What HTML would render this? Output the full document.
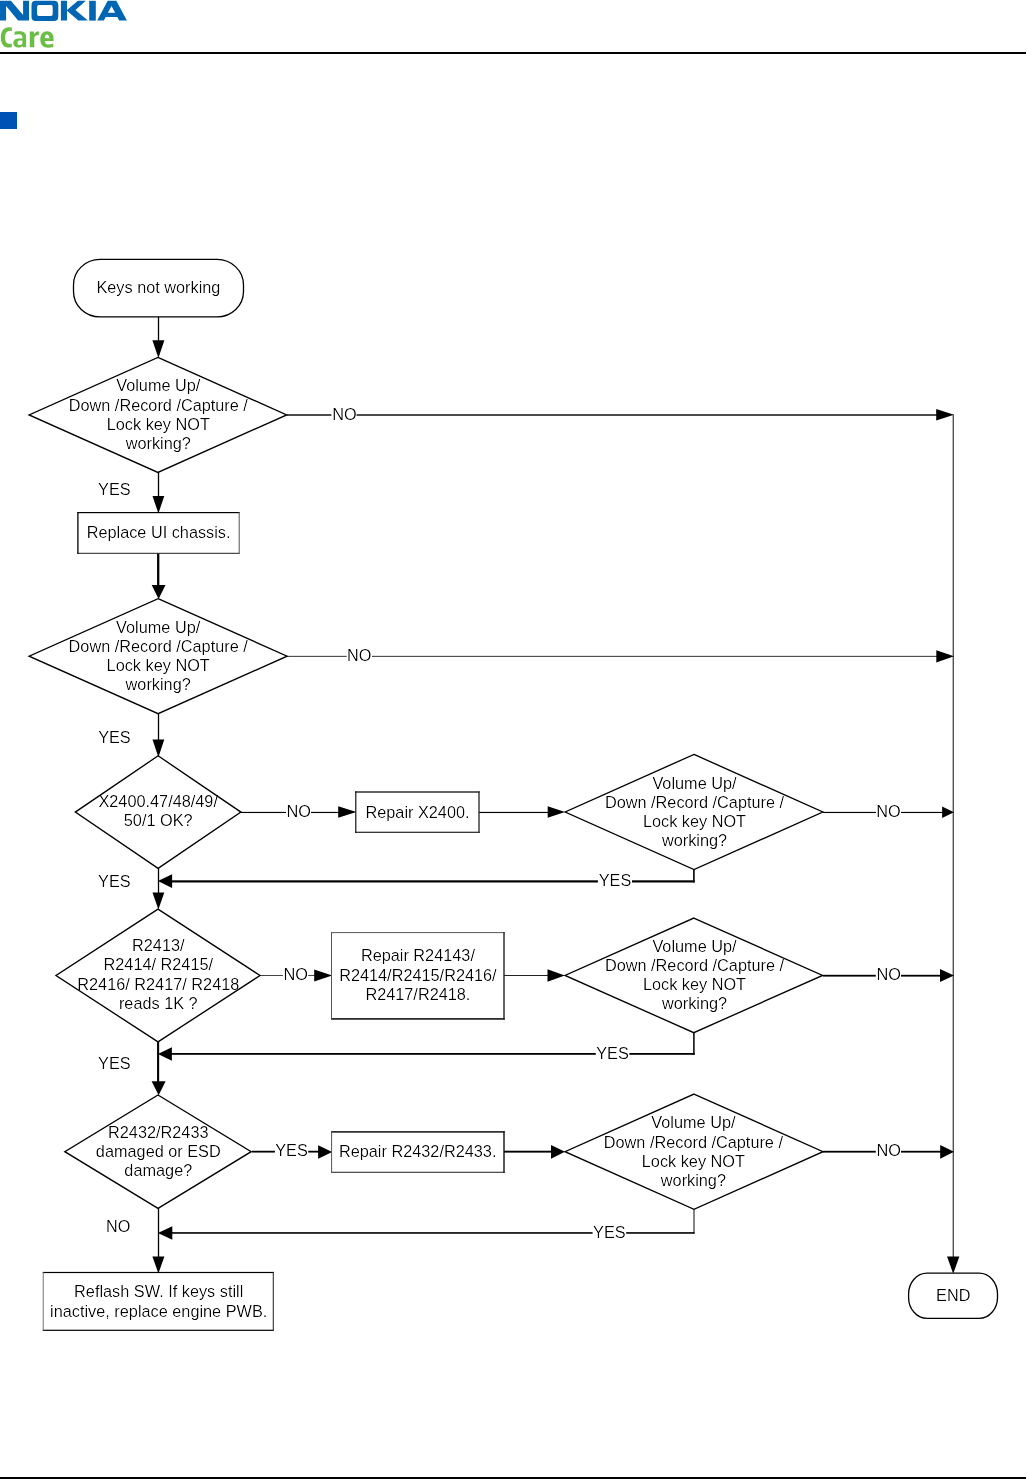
<!DOCTYPE html>
<html><head><meta charset="utf-8"><style>
html,body{margin:0;padding:0;background:#fff;}
body{width:1027px;height:1479px;overflow:hidden;position:relative;font-family:"Liberation Sans",sans-serif;}
svg{position:absolute;left:0;top:0;will-change:transform;}
</style></head><body>
<svg width="1027" height="1479" viewBox="0 0 1027 1479" font-family="Liberation Sans, sans-serif">

<g fill="#0066b3">
<path d="M0,0.7 L10.9,0.7 L23.1,15 L23.1,0.7 L29,0.7 L29,20.6 L18.1,20.6 L6.1,6.1 L6.1,20.6 L0,20.6 Z"/>
<path fill-rule="evenodd" d="M35.8,0.8 L54,0.8 Q58.3,0.8 58.3,5.1 L58.3,16.7 Q58.3,21 54,21 L35.8,21 Q31.5,21 31.5,16.7 L31.5,5.1 Q31.5,0.8 35.8,0.8 Z M38.8,5 Q37.1,5 37.1,6.7 L37.1,14.2 Q37.1,15.9 38.8,15.9 L51,15.9 Q52.7,15.9 52.7,14.2 L52.7,6.7 Q52.7,5 51,5 Z"/>
<path d="M60.9,0.8 L67,0.8 L67,10.1 L77.9,0.8 L85.8,0.8 L75.5,9.9 L87.8,20.6 L78.3,20.6 L67,10.7 L67,20.6 L60.9,20.6 Z"/>
<rect x="89.2" y="0.8" width="6.6" height="19.8"/>
<path fill-rule="evenodd" d="M107.7,0.8 L116.3,0.8 L126.9,20.5 L119.2,20.5 L117.3,17 L105.7,17 L103.8,20.5 L97.2,20.5 Z M111.5,6 L115.1,12.8 L107.9,12.8 Z"/>
</g>
<g fill="#6abe45">
<path d="M11.8,27.6 L8.9,27.2 C3.9,27.2 0.8,31 0.8,37.4 C0.8,43.8 3.9,47.6 8.9,47.6 L11.8,47.3 L11.8,43.7 L9.5,43.8 C6.6,43.8 5.1,41.6 5.1,37.4 C5.1,33.2 6.6,30.9 9.5,30.9 L11.8,31.0 Z"/>
<path fill-rule="evenodd" d="M14.6,31.7 C16,31.4 17.6,31.3 19,31.3 C23.7,31.3 26.1,33 26.1,37 L26.1,47.3 L22.9,47.3 L22.6,46 C21.6,47.1 20,47.6 18.4,47.6 C15.2,47.6 13.3,45.8 13.3,43.1 C13.3,40 15.8,38.6 19.5,38.6 L22.4,38.6 L22.4,37.3 C22.4,35.2 21.3,34.2 18.8,34.2 C17.4,34.2 15.9,34.5 14.6,34.9 Z M22.4,40.6 L19.8,40.6 C18.2,40.6 17.5,41.5 17.5,42.9 C17.5,44.3 18.2,45.1 19.5,45.1 C20.8,45.1 21.8,44.4 22.4,43.5 Z"/>
<path d="M29.8,31.6 L33.7,31.6 L34.2,33.9 C35.3,32.3 36.8,31.3 38.9,31.3 L38.9,35.0 C36.7,35.0 35.3,35.8 34.3,37.2 L34.3,47.3 L29.8,47.3 Z"/>
<path fill-rule="evenodd" d="M47,31.3 C51.4,31.3 53.6,34.2 53.6,39 L53.6,40.9 L44.8,40.9 C45,43.4 46.3,44.5 48.7,44.5 C50.4,44.5 52,44.1 53.2,43.6 L53.2,47 C51.8,47.5 50,47.7 48.3,47.7 C43.2,47.7 40.3,44.7 40.3,39.5 C40.3,34.5 43,31.3 47,31.3 Z M44.8,38.3 L49.4,38.3 C49.3,35.9 48.5,34.4 47,34.4 C45.6,34.4 44.9,35.9 44.8,38.3 Z"/>
</g>

<rect x="0" y="52" width="1026" height="2" fill="#000"/>
<rect x="0" y="112" width="17" height="17" fill="#0053b5"/>
<rect x="0" y="1477" width="1026" height="2" fill="#000"/>
<defs><filter id="thin" x="0" y="0" width="1027" height="1479" filterUnits="userSpaceOnUse" color-interpolation-filters="sRGB"><feComponentTransfer><feFuncA type="gamma" amplitude="1" exponent="1.6" offset="0"/></feComponentTransfer></filter></defs>
<g fill="#000">
<rect x="157.85" y="316.5" width="1.3" height="25.5" fill="#000"/>
<polygon points="152.4,340.3 164.4,340.3 158.4,358.0" fill="#000"/>
<rect x="157.85" y="472" width="1.3" height="26" fill="#000"/>
<polygon points="152.5,496.0 164.3,496.0 158.4,513.4" fill="#000"/>
<rect x="157.04999999999998" y="553" width="2.3" height="34" fill="#000"/>
<polygon points="151.7,585.0 165.5,585.0 158.6,599.0" fill="#000"/>
<rect x="157.85" y="713" width="1.3" height="28" fill="#000"/>
<polygon points="152.5,739.6 164.3,739.6 158.4,757.1999999999999" fill="#000"/>
<rect x="157.85" y="868" width="1.3" height="26" fill="#000"/>
<polygon points="152.5,892.4 164.3,892.4 158.4,909.4" fill="#000"/>
<rect x="157.04999999999998" y="1041" width="2.1" height="42" fill="#000"/>
<polygon points="151.6,1081.2 165.6,1081.2 158.6,1095.2" fill="#000"/>
<rect x="157.85" y="1208" width="1.3" height="50" fill="#000"/>
<polygon points="152.4,1256.6 164.4,1256.6 158.4,1273.3999999999999" fill="#000"/>
<rect x="287" y="414.3" width="653" height="1.4" fill="#000"/>
<polygon points="936.2,408.9 936.2,420.5 954.0,414.7" fill="#000"/>
<rect x="287" y="655.85" width="653" height="1.0" fill="#333"/>
<polygon points="936.3,650.2 936.3,662.5 954.0,656.35" fill="#000"/>
<rect x="823" y="811.885" width="122" height="1.15" fill="#000"/>
<polygon points="942.1,806.4 942.1,817.9 954.0,812.15" fill="#000"/>
<rect x="823" y="974.8000000000001" width="122" height="1.8" fill="#000"/>
<polygon points="940.0,969.05 940.0,982.05 954.0,975.55" fill="#000"/>
<rect x="823" y="1150.8" width="122" height="1.8" fill="#000"/>
<polygon points="940.2,1145.05 940.2,1158.6499999999999 954.0,1151.85" fill="#000"/>
<rect x="952.725" y="414.5" width="0.95" height="843.5" fill="#000"/>
<polygon points="947.0500000000001,1256.4 959.35,1256.4 953.2,1273.8" fill="#000"/>
<rect x="241" y="811.885" width="101" height="1.15" fill="#000"/>
<polygon points="338.2,806.3499999999999 338.2,817.75 356.40000000000003,812.05" fill="#000"/>
<rect x="479" y="811.885" width="71" height="1.15" fill="#000"/>
<polygon points="547.7,806.3499999999999 547.7,817.75 565.0,812.05" fill="#000"/>
<rect x="693.1" y="869" width="1.6" height="13.600000000000023" fill="#000"/>
<rect x="170" y="880.3" width="524.7" height="2.2" fill="#000"/>
<polygon points="172.1,874.1999999999999 172.1,887.9 157.89999999999998,881.05" fill="#000"/>
<rect x="260" y="975.0" width="58" height="1.0" fill="#444"/>
<polygon points="314.2,969.4000000000001 314.2,981.5 332.2,975.45" fill="#000"/>
<rect x="504" y="975.0" width="46" height="1.0" fill="#222"/>
<polygon points="547.5,969.2 547.5,981.7 564.8,975.45" fill="#000"/>
<rect x="693.15" y="1032" width="1.5" height="22.799999999999955" fill="#000"/>
<rect x="170" y="1053.0" width="524.65" height="1.8" fill="#000"/>
<polygon points="171.9,1047.35 171.9,1060.65 157.89999999999998,1054.0" fill="#000"/>
<rect x="252" y="1150.75" width="68" height="1.8" fill="#000"/>
<polygon points="318.1,1145.2 318.1,1158.7 332.2,1151.95" fill="#000"/>
<rect x="504" y="1150.71" width="49" height="1.9" fill="#000"/>
<polygon points="551.0,1145.0 551.0,1158.6999999999998 565.0,1151.85" fill="#000"/>
<rect x="693.45" y="1209" width="1.1" height="24.700000000000045" fill="#222"/>
<rect x="170" y="1232.15" width="524.55" height="1.6" fill="#000"/>
<polygon points="172.3,1226.3 172.3,1239.7 157.89999999999998,1233.0" fill="#000"/>
<rect x="73.5" y="259.4" width="170.0" height="57.5" rx="26.5" ry="25.5" fill="#fff" stroke="#000" stroke-width="1.3"/>
<polygon points="157.9,357.4 286.70000000000005,414.9 157.9,472.4 29.099999999999994,414.9" fill="#fff" stroke="#000" stroke-width="1.35" stroke-linejoin="miter"/>
<rect x="77.9" y="512.6" width="161.29999999999998" height="40.69999999999993" fill="#fff"/>
<rect x="77.25" y="512.0" width="162.45" height="1.2" fill="#000"/>
<rect x="77.25" y="552.8" width="162.45" height="1.0" fill="#222"/>
<rect x="77.25" y="512.0" width="1.3" height="41.799999999999955" fill="#000"/>
<rect x="238.7" y="512.0" width="1.0" height="41.799999999999955" fill="#555"/>
<polygon points="158.1,598.7 287.1,656.2 158.1,713.7 29.099999999999994,656.2" fill="#fff" stroke="#000" stroke-width="1.35" stroke-linejoin="miter"/>
<polygon points="158.1,755.8000000000001 240.89999999999998,812.1 158.1,868.4 75.3,812.1" fill="#fff" stroke="#000" stroke-width="1.35" stroke-linejoin="miter"/>
<rect x="355.8" y="792.0" width="123.19999999999999" height="40.299999999999955" fill="#fff"/>
<rect x="355.25" y="791.3" width="124.39999999999998" height="1.4" fill="#222"/>
<rect x="355.25" y="831.6999999999999" width="124.39999999999998" height="1.2" fill="#222"/>
<rect x="355.25" y="791.3" width="1.1" height="41.60000000000002" fill="#000"/>
<rect x="478.35" y="791.3" width="1.3" height="41.60000000000002" fill="#222"/>
<polygon points="694.0,754.4 822.8,812.0 694.0,869.6 565.2,812.0" fill="#fff" stroke="#000" stroke-width="1.35" stroke-linejoin="miter"/>
<polygon points="158.0,909.1 260.0,975.5 158.0,1041.9 56.0,975.5" fill="#fff" stroke="#000" stroke-width="1.35" stroke-linejoin="miter"/>
<rect x="331.5" y="932.6" width="172.5" height="86.29999999999995" fill="#fff"/>
<rect x="331.0" y="932.1" width="173.7" height="1.0" fill="#555"/>
<rect x="331.0" y="1018.05" width="173.7" height="1.7" fill="#222"/>
<rect x="331.0" y="932.1" width="1.0" height="87.64999999999998" fill="#555"/>
<rect x="503.3" y="932.1" width="1.4" height="87.64999999999998" fill="#222"/>
<polygon points="693.8,918.1 822.5999999999999,975.4 693.8,1032.7 565.0,975.4" fill="#fff" stroke="#000" stroke-width="1.35" stroke-linejoin="miter"/>
<polygon points="158.0,1095.0 251.2,1151.7 158.0,1208.4 64.8,1151.7" fill="#fff" stroke="#000" stroke-width="1.35" stroke-linejoin="miter"/>
<rect x="331.6" y="1131.9" width="172.39999999999998" height="40.399999999999864" fill="#fff"/>
<rect x="331.1" y="1131.2" width="173.59999999999997" height="1.4" fill="#000"/>
<rect x="331.1" y="1171.75" width="173.59999999999997" height="1.1" fill="#333"/>
<rect x="331.1" y="1131.2" width="1.0" height="41.649999999999864" fill="#555"/>
<rect x="503.3" y="1131.2" width="1.4" height="41.649999999999864" fill="#111"/>
<polygon points="694.0,1094.1000000000001 823.0,1151.7 694.0,1209.3 565.0,1151.7" fill="#fff" stroke="#000" stroke-width="1.35" stroke-linejoin="miter"/>
<rect x="43.2" y="1272.5" width="230.10000000000002" height="57.799999999999955" fill="#fff"/>
<rect x="42.75" y="1271.9" width="231.10000000000002" height="1.2" fill="#000"/>
<rect x="42.75" y="1329.7" width="231.10000000000002" height="1.2" fill="#000"/>
<rect x="42.75" y="1271.9" width="0.9" height="58.99999999999977" fill="#666"/>
<rect x="272.75" y="1271.9" width="1.1" height="58.99999999999977" fill="#333"/>
<rect x="908.6" y="1273.1" width="88.9" height="45.3" rx="18.5" ry="21" fill="#fff" stroke="#000" stroke-width="1.3"/>
<rect x="331.4" y="408.0" width="25.100000000000023" height="14" fill="#fff"/>
<rect x="346.7" y="649.3" width="25.30000000000001" height="14" fill="#fff"/>
<rect x="286.0" y="805.4" width="25.0" height="14" fill="#fff"/>
<rect x="876.0" y="805.4" width="25.0" height="14" fill="#fff"/>
<rect x="597.9" y="874.5" width="34.10000000000002" height="14" fill="#fff"/>
<rect x="282.9" y="968.5" width="25.30000000000001" height="14" fill="#fff"/>
<rect x="875.8" y="968.6" width="25.200000000000045" height="14" fill="#fff"/>
<rect x="595.8" y="1047.0" width="33.60000000000002" height="14" fill="#fff"/>
<rect x="274.9" y="1144.7" width="33.30000000000001" height="14" fill="#fff"/>
<rect x="875.8" y="1144.7" width="25.200000000000045" height="14" fill="#fff"/>
<rect x="592.6" y="1226.0" width="33.5" height="14" fill="#fff"/>
<g filter="url(#thin)"><text x="158.4" y="292.8" text-anchor="middle" font-size="16.3" >Keys not working</text>
<text x="158.3" y="391.3" text-anchor="middle" font-size="16.3" >Volume Up/</text>
<text x="158.3" y="410.5" text-anchor="middle" font-size="16.3" >Down /Record /Capture /</text>
<text x="158.3" y="429.6" text-anchor="middle" font-size="16.3" >Lock key NOT</text>
<text x="158.3" y="448.7" text-anchor="middle" font-size="16.3" >working?</text>
<text x="158.6" y="537.7" text-anchor="middle" font-size="16.3" >Replace UI chassis.</text>
<text x="158.2" y="632.8" text-anchor="middle" font-size="16.3" >Volume Up/</text>
<text x="158.2" y="652.0" text-anchor="middle" font-size="16.3" >Down /Record /Capture /</text>
<text x="158.2" y="671.1" text-anchor="middle" font-size="16.3" >Lock key NOT</text>
<text x="158.2" y="690.2" text-anchor="middle" font-size="16.3" >working?</text>
<text x="158.2" y="806.6" text-anchor="middle" font-size="16.3" >X2400.47/48/49/</text>
<text x="158.2" y="826.3" text-anchor="middle" font-size="16.3" >50/1 OK?</text>
<text x="417.5" y="817.8" text-anchor="middle" font-size="16.3" >Repair X2400.</text>
<text x="694.5" y="788.5" text-anchor="middle" font-size="16.3" >Volume Up/</text>
<text x="694.5" y="807.7" text-anchor="middle" font-size="16.3" >Down /Record /Capture /</text>
<text x="694.5" y="826.8" text-anchor="middle" font-size="16.3" >Lock key NOT</text>
<text x="694.5" y="845.9" text-anchor="middle" font-size="16.3" >working?</text>
<text x="158.3" y="951" text-anchor="middle" font-size="16.3" >R2413/</text>
<text x="158.3" y="970.4" text-anchor="middle" font-size="16.3" >R2414/ R2415/</text>
<text x="158.3" y="989.7" text-anchor="middle" font-size="16.3" >R2416/ R2417/ R2418</text>
<text x="158.3" y="1009" text-anchor="middle" font-size="16.3" >reads 1K ?</text>
<text x="417.9" y="961.1" text-anchor="middle" font-size="16.3" >Repair R24143/</text>
<text x="417.9" y="980.6" text-anchor="middle" font-size="16.3" >R2414/R2415/R2416/</text>
<text x="417.9" y="1000.0" text-anchor="middle" font-size="16.3" >R2417/R2418.</text>
<text x="694.5" y="952" text-anchor="middle" font-size="16.3" >Volume Up/</text>
<text x="694.5" y="971.2" text-anchor="middle" font-size="16.3" >Down /Record /Capture /</text>
<text x="694.5" y="990.3" text-anchor="middle" font-size="16.3" >Lock key NOT</text>
<text x="694.5" y="1009.4" text-anchor="middle" font-size="16.3" >working?</text>
<text x="158.3" y="1137.5" text-anchor="middle" font-size="16.3" >R2432/R2433</text>
<text x="158.3" y="1156.5" text-anchor="middle" font-size="16.3" >damaged or ESD</text>
<text x="158.3" y="1175.5" text-anchor="middle" font-size="16.3" >damage?</text>
<text x="417.7" y="1156.8" text-anchor="middle" font-size="16.3" >Repair R2432/R2433.</text>
<text x="693.4" y="1128.3" text-anchor="middle" font-size="16.3" >Volume Up/</text>
<text x="693.4" y="1147.5" text-anchor="middle" font-size="16.3" >Down /Record /Capture /</text>
<text x="693.4" y="1166.6" text-anchor="middle" font-size="16.3" >Lock key NOT</text>
<text x="693.4" y="1185.7" text-anchor="middle" font-size="16.3" >working?</text>
<text x="158.7" y="1297" text-anchor="middle" font-size="16.3" >Reflash SW. If keys still</text>
<text x="158.7" y="1316.5" text-anchor="middle" font-size="16.3" >inactive, replace engine PWB.</text>
<text x="953.3" y="1301.0" text-anchor="middle" font-size="16.3" >END</text>
<text x="114.35" y="495.0" text-anchor="middle" font-size="16.3" >YES</text>
<text x="344.4" y="419.7" text-anchor="middle" font-size="16.3" >NO</text>
<text x="359.1" y="660.7" text-anchor="middle" font-size="16.3" >NO</text>
<text x="114.45" y="742.7" text-anchor="middle" font-size="16.3" >YES</text>
<text x="298.6" y="817.2" text-anchor="middle" font-size="16.3" >NO</text>
<text x="888.5" y="817.2" text-anchor="middle" font-size="16.3" >NO</text>
<text x="615.0" y="885.9" text-anchor="middle" font-size="16.3" >YES</text>
<text x="114.35" y="886.7" text-anchor="middle" font-size="16.3" >YES</text>
<text x="295.8" y="980.45" text-anchor="middle" font-size="16.3" >NO</text>
<text x="888.6" y="980.45" text-anchor="middle" font-size="16.3" >NO</text>
<text x="612.5" y="1058.6" text-anchor="middle" font-size="16.3" >YES</text>
<text x="114.35" y="1069.45" text-anchor="middle" font-size="16.3" >YES</text>
<text x="291.5" y="1156.45" text-anchor="middle" font-size="16.3" >YES</text>
<text x="888.6" y="1156.45" text-anchor="middle" font-size="16.3" >NO</text>
<text x="609.4" y="1237.6" text-anchor="middle" font-size="16.3" >YES</text>
<text x="118.15" y="1231.7" text-anchor="middle" font-size="16.3" >NO</text></g>
</g>
</svg>
</body></html>
